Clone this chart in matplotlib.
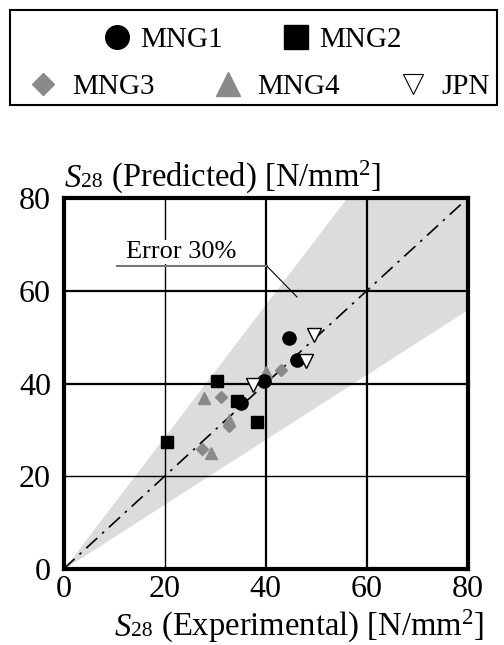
import numpy as np
import matplotlib.pyplot as plt
from matplotlib.patches import Rectangle
from matplotlib.lines import Line2D

plt.rcParams['font.family'] = ['Liberation Serif', 'DejaVu Serif']
plt.rcParams['mathtext.fontset'] = 'custom'
plt.rcParams['mathtext.rm'] = 'Liberation Serif'
plt.rcParams['mathtext.it'] = 'Liberation Serif:italic'

# ---- data (experimental, predicted) in N/mm2 ----
mng1_x = [44.7, 46.3, 35.1, 39.6]
mng1_y = [49.9, 45.1, 35.9, 40.5]

mng2_x = [30.3, 34.4, 38.3, 20.4]
mng2_y = [40.5, 36.2, 31.8, 27.5]

mng3_x = [31.1, 43.0, 32.8, 27.4]
mng3_y = [37.2, 42.9, 30.8, 25.8]

mng4_x = [27.9, 40.1, 32.8, 29.1]
mng4_y = [36.8, 42.5, 32.1, 25.1]

jpn_x = [49.5, 48.0, 37.6]
jpn_y = [50.5, 44.9, 39.7]

err_ratio = 0.7
ticks = [0, 20, 40, 60, 80]

fig = plt.figure(figsize=(5.04, 6.45), dpi=100)
ax = fig.add_axes([0.126, 0.1178, 0.802, 0.575])

# error band and 1:1 line
xs = np.array([0, 80])
ax.fill_between([0, 80 * err_ratio, 80], [0, 80, 80], [0, 80 * err_ratio ** 2, 80 * err_ratio],
                color="#dcdcdc", lw=0, zorder=0)
ax.plot(xs, xs, color="black", lw=1.2, linestyle=(0, (9, 4, 1.5, 4)), zorder=2)

# grid
for v in ticks[1:-1]:
    lw = 1.0 if v == 20 else 1.6
    ax.axvline(v, color="black", lw=lw, zorder=1)
    ax.axhline(v, color="black", lw=lw, zorder=1)

gray = "#8a8a8a"
ax.plot(mng1_x, mng1_y, "o", color="black", ms=9.5, ls="none", zorder=5)
ax.plot(mng2_x, mng2_y, "s", color="black", ms=9, ls="none", zorder=5)
ax.plot(mng3_x, mng3_y, "D", color=gray, ms=6.5, ls="none", zorder=4)
ax.plot(mng4_x, mng4_y, "^", color=gray, ms=9, ls="none", zorder=4)
ax.plot(jpn_x, jpn_y, "v", mfc="white", mec="black", mew=1.0, ms=10, ls="none", zorder=6)

# annotation
ax.text(12.3, 66.0, "Error 30%", fontsize=19, ha="left", va="bottom", zorder=3,
        bbox=dict(facecolor="white", edgecolor="none", pad=1.0))
ax.plot([10.5, 40.3], [65.3, 65.3], color="#777777", lw=1.5, zorder=3)
ax.plot([40.3, 46.2], [65.3, 58.7], color="black", lw=0.8, zorder=3)

ax.set_xlim(0, 80)
ax.set_ylim(0, 80)
ax.set_xticks(ticks)
ax.set_yticks(ticks)
ax.tick_params(length=0, labelsize=23)
ax.tick_params(axis="x", pad=4)
ax.tick_params(axis="y", pad=9)
for s in ax.spines.values():
    s.set_linewidth(3)


def axis_title(x0, y0, rest, fs=23.5, align="left"):
    # S (italic) + small "28" on the baseline + rest of the text
    r = fig.canvas.get_renderer()
    parts = [("S", dict(fontsize=fs, style="italic")),
             ("28", dict(fontsize=fs * 0.66)),
             (rest, dict(fontsize=fs))]
    arts = [fig.text(0, y0, t, va="baseline", ha="left", **kw) for t, kw in parts]
    widths = [a.get_window_extent(r).width / fig.bbox.width for a in arts]
    x = x0 if align == "left" else x0 - sum(widths)
    for a, w in zip(arts, widths):
        a.set_x(x)
        x += w


axis_title(65 / 504, 1 - 187 / 645, " (Predicted) [N/mm$^{\\mathregular{2}}$]")
axis_title(484 / 504, 1 - 636 / 645, " (Experimental) [N/mm$^{\\mathregular{2}}$]", align="right")

# legend box
fig.patches.append(Rectangle((10 / 504, 1 - 105 / 645), 487 / 504, 95 / 645,
                             transform=fig.transFigure, fill=False, ec="black", lw=1.5))
leg1 = [Line2D([], [], marker="o", color="black", ms=17, ls="none", label="MNG1"),
        Line2D([], [], marker="s", color="black", ms=17, ls="none", label="MNG2")]
leg2 = [Line2D([], [], marker="D", color=gray, ms=11, ls="none", label="MNG3"),
        Line2D([], [], marker="^", color=gray, ms=17, ls="none", label="MNG4"),
        Line2D([], [], marker="v", mfc="white", mec="black", mew=0.8, ms=15, ls="none",
               label="JPN")]
fig.legend(handles=leg1, loc="center", bbox_to_anchor=(0.5, 1 - 40 / 645), ncol=2,
           frameon=False, fontsize=21, handlelength=1.0, handletextpad=0.3,
           columnspacing=2.0, borderpad=0, borderaxespad=0)
fig.legend(handles=leg2, loc="center", bbox_to_anchor=(0.515, 1 - 87 / 645), ncol=3,
           frameon=False, fontsize=21, handlelength=1.0, handletextpad=0.5,
           columnspacing=2.0, borderpad=0, borderaxespad=0)

fig.savefig("out.png", dpi=100)
